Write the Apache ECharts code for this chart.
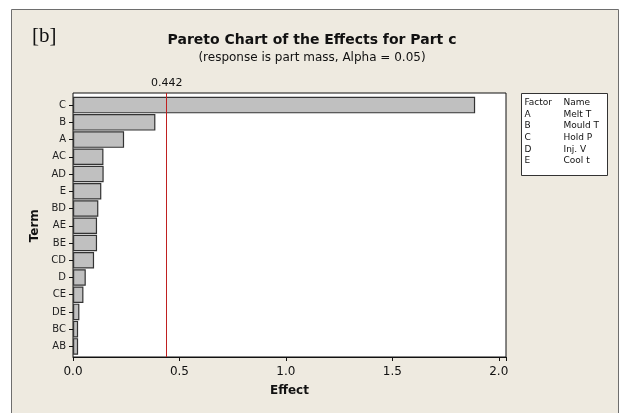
<!DOCTYPE html>
<html><head><meta charset="utf-8">
<script src="https://cdn.jsdelivr.net/npm/echarts@6/dist/echarts.min.js"></script>
<style>html,body{margin:0;padding:0;background:#fff}#c{width:624px;height:413px}</style>
</head><body><div id="c"></div>
<script>
const terms = ['C','B','A','AC','AD','E','BD','AE','BE','CD','D','CE','DE','BC','AB'];
const effects = [1.889,0.387,0.240,0.143,0.144,0.133,0.119,0.113,0.113,0.099,0.060,0.049,0.030,0.024,0.024];
const refValue = 0.442;
const xTicks = [0.0,0.5,1.0,1.5,2.0];
const factors = ['A','B','C','D','E'];
const factorNames = ['Melt T','Mould T','Hold P','Inj. V','Cool t'];

const chart = echarts.init(document.getElementById('c'));
const FONT = 'DejaVu Sans';
const xMax = 2.034;

const legendLines = [{f:'Factor', n:'Name'}].concat(factors.map((f,i)=>({f:f,n:factorNames[i]})));
const legendChildren = [{type:'rect', shape:{x:0,y:0,width:86,height:82}, style:{fill:'#fff', stroke:'#333', lineWidth:1}}];
legendLines.forEach((l,i)=>{
  legendChildren.push({type:'text', x:3, y:9+i*11.7, style:{text:l.f, font:'9px '+FONT, fill:'#111', textVerticalAlign:'middle'}});
  legendChildren.push({type:'text', x:42, y:9+i*11.7, style:{text:l.n, font:'9px '+FONT, fill:'#111', textVerticalAlign:'middle'}});
});

chart.setOption({
  backgroundColor:'#fff',
  animation:false,
  graphic:[
    {type:'rect', z:-10, shape:{x:11.5,y:9.5,width:607,height:420}, style:{fill:'#EEEAE0', stroke:'#6e6e6e', lineWidth:1}},
    {type:'text', left:32, top:26, style:{text:'[b]', font:'21px "Liberation Serif"', fill:'#111'}},
    {type:'group', left:521, top:93, children:legendChildren}
  ],
  title:{
    text:'Pareto Chart of the Effects for Part c',
    subtext:'(response is part mass, Alpha = 0.05)',
    left:'center', top:28, itemGap:5,
    textStyle:{fontFamily:FONT, fontWeight:'bold', fontSize:14, color:'#111'},
    subtextStyle:{fontFamily:FONT, fontSize:12, color:'#111'}
  },
  grid:[
    {left:73, right:118, top:93, bottom:56, show:true, backgroundColor:'#fff', borderColor:'#111', borderWidth:1},
    {left:73, right:118, top:96.5, bottom:58}
  ],
  xAxis:[
    {type:'value', gridIndex:0, min:0, max:xMax, interval:0.5,
     name:'Effect', nameLocation:'middle', nameGap:28,
     nameTextStyle:{fontFamily:FONT, fontWeight:'bold', fontSize:12, color:'#111'},
     axisLine:{show:true, lineStyle:{color:'#111'}},
     axisTick:{show:true, length:4, lineStyle:{color:'#111'}},
     splitLine:{show:false},
     axisLabel:{fontFamily:FONT, fontSize:12, color:'#111', margin:9,
       formatter:v=>{const t=xTicks.find(x=>Math.abs(x-v)<1e-6);return t===undefined?'':t.toFixed(1);}}},
    {type:'value', gridIndex:1, min:0, max:xMax, show:false}
  ],
  yAxis:[
    {type:'value', gridIndex:0, min:0, max:1, show:false},
    {type:'category', gridIndex:1, data:terms, inverse:true,
     name:'Term', nameLocation:'middle', nameGap:32,
     nameTextStyle:{fontFamily:FONT, fontWeight:'bold', fontSize:12, color:'#111'},
     axisLine:{show:false},
     axisTick:{show:true, alignWithLabel:true, length:4, lineStyle:{color:'#111'}},
     axisLabel:{fontFamily:FONT, fontSize:10, color:'#222', margin:7}}
  ],
  series:[
    {type:'bar', xAxisIndex:1, yAxisIndex:1, data:effects, barWidth:16.5,
     itemStyle:{color:'#C0C0C0', borderColor:'#333', borderWidth:1.2}},
    {type:'line', xAxisIndex:0, yAxisIndex:0, data:[], silent:true,
     markLine:{symbol:'none', silent:true,
       lineStyle:{color:'#C02020', type:'solid', width:1},
       label:{show:true, position:'end', formatter:String(refValue), fontFamily:FONT, fontSize:11, color:'#111', distance:4},
       data:[{xAxis:refValue}]}}
  ]
});
</script></body></html>
